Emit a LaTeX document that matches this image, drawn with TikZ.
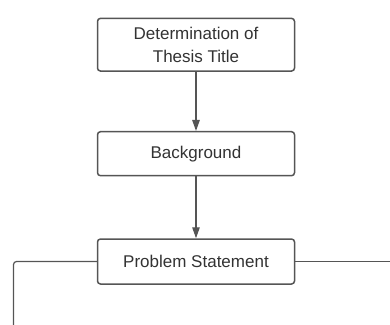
\documentclass[tikz,border=0pt]{standalone}
\usepackage{fontspec}
\setmainfont{Liberation Sans}
\usepackage{xcolor}
\usetikzlibrary{arrows.meta}
\definecolor{linegray}{HTML}{555555}
\definecolor{textgray}{HTML}{333333}

\begin{document}
\begin{tikzpicture}[
  x=1pt, y=-1pt,
  stepbox/.style = {draw=linegray, fill=white, rounded corners=3pt,
                    line width=1.5pt, minimum width=197pt, align=center,
                    text=textgray, font=\fontsize{17}{23}\selectfont},
  flow/.style    = {draw=linegray, line width=1.2pt,
                    -{Triangle[length=11pt, width=7.5pt]}},
  branch/.style  = {draw=linegray, line width=1.2pt, rounded corners=3pt},
]
\useasboundingbox (0,0) rectangle (390,324);

%% ── steps ───────────────────────────────────────────────────────────────────
\node[stepbox, minimum height=52.7pt] (title)   at (196, 44.7)
  {Determination of\\Thesis Title};
\node[stepbox, minimum height=44pt]   (backgr)  at (196,153.7) {Background};
\node[stepbox, minimum height=45pt]   (problem) at (196,261.5) {Problem Statement};

%% ── arrows ──────────────────────────────────────────────────────────────────
\draw[flow] (title)  -- (backgr);
\draw[flow] (backgr) -- (problem);

%% ── branches leaving the picture ─────────────────────────────────────────────
\coordinate (leftend)  at (13.5,326);
\coordinate (rightend) at (392,261.5);
\draw[branch] (problem.west) -| (leftend);
\draw[branch] (problem.east) -- (rightend);

\end{tikzpicture}
\end{document}
